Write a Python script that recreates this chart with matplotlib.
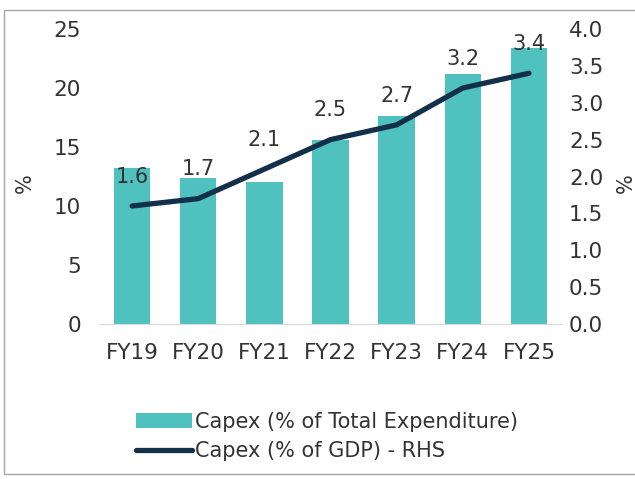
import matplotlib.pyplot as plt
from matplotlib.patches import Rectangle

# data
years = ['FY19', 'FY20', 'FY21', 'FY22', 'FY23', 'FY24', 'FY25']
capex_total = [13.2, 12.4, 12.0, 15.6, 17.6, 21.2, 23.4]   # % of total expenditure (LHS)
capex_gdp = [1.6, 1.7, 2.1, 2.5, 2.7, 3.2, 3.4]            # % of GDP (RHS)
gdp_labels = ['1.6', '1.7', '2.1', '2.5', '2.7', '3.2', '3.4']

teal = '#4fc2c0'
navy = '#13304b'
txt = '#333333'

plt.rcParams['font.family'] = 'DejaVu Sans'
plt.rcParams['font.size'] = 15

fig = plt.figure(figsize=(6.35, 4.79), dpi=100)
ax = fig.add_axes([99/635, 1 - 324/479, 463/635, 295/479])
ax2 = ax.twinx()

x = list(range(len(years)))
bars = ax.bar(x, capex_total, width=0.55, color=teal, label='Capex (% of Total Expenditure)')
line, = ax2.plot(x, capex_gdp, color=navy, lw=3.8, solid_capstyle='round',
                 label='Capex (% of GDP) - RHS')

for xi, v, lab in zip(x, capex_gdp, gdp_labels):
    ax2.annotate(lab, (xi, v), xytext=(0, 21), textcoords='offset points',
                 ha='center', va='center', color=txt, fontsize=15)

ax.set_xlim(-0.5, 6.5)
ax.set_ylim(0, 25)
ax2.set_ylim(0, 4)
ax.set_yticks([0, 5, 10, 15, 20, 25])
ax2.set_yticks([0, 0.5, 1, 1.5, 2, 2.5, 3, 3.5, 4])
ax2.set_yticklabels(['%.1f' % t for t in ax2.get_yticks()])
ax.set_xticks(x)
ax.set_xticklabels(years)

for a in (ax, ax2):
    for s in ['top', 'left', 'right']:
        a.spines[s].set_visible(False)
    a.spines['bottom'].set_color('#d9d9d9')
    a.tick_params(length=0, colors=txt, labelsize=15.5)
ax2.spines['bottom'].set_visible(False)
ax.tick_params(axis='y', pad=13)
ax2.tick_params(axis='y', pad=5)
ax.tick_params(axis='x', pad=14)

fig.text(25/635, 1 - 183/479, '%', rotation=90, ha='center', va='center', color=txt, fontsize=15)
fig.text(626/635, 1 - 183/479, '%', rotation=90, ha='center', va='center', color=txt, fontsize=15)

fig.legend([bars, line], ['Capex (% of Total Expenditure)', 'Capex (% of GDP) - RHS'],
           loc='upper left', bbox_to_anchor=(136/635, 1 - 412/479), frameon=False,
           handlelength=2.7, handletextpad=0.15, labelspacing=0.45, fontsize=15,
           labelcolor=txt, borderaxespad=0, borderpad=0)

# light grey frame around the figure
fig.patches.append(Rectangle((4/635, 1 - 474/479), 1.0, 464/479, transform=fig.transFigure,
                             fill=False, edgecolor='#a6a6a6', lw=1))

fig.savefig('out.png', dpi=100)
